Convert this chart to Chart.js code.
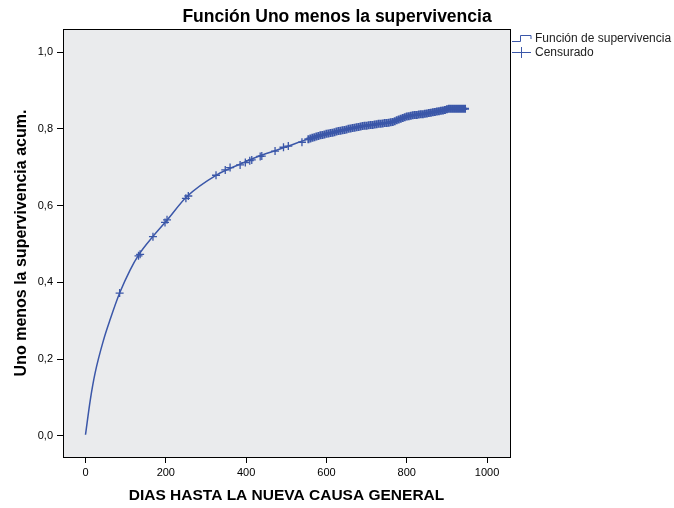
<!DOCTYPE html>
<html>
<head>
<meta charset="utf-8">
<script src="https://cdn.jsdelivr.net/npm/chart.js@4"></script>
<style>
  html, body { margin: 0; padding: 0; background: #fff; }
  #wrap { width: 674px; height: 508px; }
</style>
</head>
<body>
<div id="wrap"><canvas id="curvaChart" width="674" height="508"></canvas></div>
<script>
// Función Uno menos la supervivencia
const curveDays = [0, 12, 24, 45, 62, 85, 111, 132, 169, 203, 252, 327, 385, 433, 472, 505, 559, 600, 659, 700, 758, 780, 808, 875, 908, 950];
const curveValues = [0.003, 0.094, 0.164, 0.25, 0.305, 0.372, 0.432, 0.471, 0.521, 0.562, 0.623, 0.68, 0.708, 0.729, 0.743, 0.755, 0.775, 0.787, 0.801, 0.808, 0.817, 0.824, 0.834, 0.845, 0.852, 0.852];

// casos censurados
const censorDays = [85, 132, 136, 168, 198, 203, 250, 256, 325, 348, 360, 385, 398, 409, 414, 435, 439, 472, 493, 505, 539,
  555, 560, 565, 570, 575, 580, 585, 590, 595, 600, 605, 610, 615, 620, 625, 630, 635, 640, 645, 650, 655, 660, 665, 670,
  675, 680, 685, 690, 695, 700, 705, 710, 715, 720, 725, 730, 735, 740, 745, 750, 755, 760, 765, 770, 775, 780, 785, 790,
  795, 800, 805, 810, 815, 820, 825, 830, 835, 840, 845, 850, 855, 860, 865, 870, 875, 880, 885, 890, 895, 900, 905, 910,
  915, 920, 925, 930, 935, 940, 945];
const censorValues = [0.372, 0.469, 0.473, 0.519, 0.556, 0.563, 0.619, 0.625, 0.679, 0.693, 0.699, 0.706, 0.712, 0.717, 0.719, 0.728, 0.729, 0.742, 0.752, 0.755, 0.765,
  0.773, 0.775, 0.777, 0.778, 0.780, 0.781, 0.783, 0.784, 0.785, 0.787, 0.788, 0.789, 0.790, 0.791, 0.793, 0.794, 0.795, 0.796, 0.797, 0.798, 0.800, 0.801, 0.802, 0.803,
  0.804, 0.805, 0.806, 0.807, 0.808, 0.808, 0.809, 0.810, 0.810, 0.811, 0.812, 0.813, 0.813, 0.814, 0.815, 0.815, 0.816, 0.817, 0.818, 0.820, 0.822, 0.824, 0.826, 0.828,
  0.830, 0.832, 0.833, 0.834, 0.835, 0.836, 0.836, 0.837, 0.838, 0.838, 0.839, 0.840, 0.841, 0.842, 0.843, 0.844, 0.845, 0.846, 0.847, 0.848, 0.849, 0.851, 0.852, 0.852,
  0.852, 0.852, 0.852, 0.852, 0.852, 0.852, 0.852];

const xTicks = [0, 200, 400, 600, 800, 1000];
const yTicks = [0, 0.2, 0.4, 0.6, 0.8, 1.0];
const legendLabels = ['Función de supervivencia', 'Censurado'];

const azul = '#3b57a9';
const fuente = "Arial, 'Liberation Sans', sans-serif";

const fondoPlugin = {
  id: 'fondo',
  beforeDraw(chart) {
    const {ctx, chartArea: a} = chart;
    ctx.save();
    ctx.fillStyle = '#eaebed';
    ctx.fillRect(a.left, a.top, a.right - a.left, a.bottom - a.top);
    ctx.restore();
  },
  afterDraw(chart) {
    const {ctx, chartArea: a} = chart;
    ctx.save();
    ctx.strokeStyle = '#000';
    ctx.lineWidth = 1;
    ctx.strokeRect(Math.round(a.left) + 0.5, Math.round(a.top) + 0.5, Math.round(a.right - a.left), Math.round(a.bottom - a.top));

    // leyenda
    ctx.strokeStyle = azul;
    ctx.lineWidth = 1;
    ctx.beginPath();
    ctx.moveTo(512, 41.5); ctx.lineTo(520.5, 41.5); ctx.lineTo(520.5, 35.5); ctx.lineTo(531, 35.5); ctx.lineTo(531, 39);
    ctx.stroke();
    ctx.beginPath();
    ctx.moveTo(512, 52.5); ctx.lineTo(531, 52.5);
    ctx.moveTo(521.5, 47); ctx.lineTo(521.5, 58);
    ctx.stroke();
    ctx.fillStyle = '#222';
    ctx.font = '12px ' + fuente;
    ctx.textBaseline = 'middle';
    ctx.fillText(legendLabels[0], 535, 39);
    ctx.fillText(legendLabels[1], 535, 53);
    ctx.restore();
  }
};

const ctx = document.getElementById('curvaChart').getContext('2d');
const curvaChart = new Chart(ctx, {
  type: 'line',
  data: {
    datasets: [{
      label: legendLabels[0],
      data: curveDays.map((d, i) => ({x: d, y: curveValues[i]})),
      borderColor: azul,
      borderWidth: 1.5,
      pointRadius: 0,
      cubicInterpolationMode: 'monotone',
      fill: false
    }, {
      label: legendLabels[1],
      type: 'scatter',
      data: censorDays.map((d, i) => ({x: d, y: censorValues[i]})),
      pointStyle: 'cross',
      pointRadius: 4,
      borderColor: azul,
      // las marcas densas forman una banda sólida
      borderWidth: c => (c.raw && c.raw.x >= 550 ? 2 : 1.3),
      showLine: false
    }]
  },
  options: {
    responsive: false,
    animation: false,
    layout: { padding: 0 },
    plugins: {
      legend: { display: false },
      tooltip: { enabled: false },
      title: {
        display: true,
        text: 'Función Uno menos la supervivencia',
        color: '#000',
        font: { family: fuente, size: 17.5, weight: 'bold' },
        padding: { top: 7, bottom: 1 }
      }
    },
    scales: {
      x: {
        type: 'linear',
        min: -56,
        max: 1057,
        afterBuildTicks: axis => { axis.ticks = xTicks.map(v => ({value: v})); },
        afterFit: scale => { scale.height = 51; },
        grid: { drawOnChartArea: false, drawTicks: true, tickLength: 6, color: '#000' },
        border: { display: false },
        ticks: { color: '#000', font: { family: fuente, size: 11 }, padding: 3, maxRotation: 0, callback: v => String(v) },
        title: {
          display: true,
          text: 'DIAS HASTA LA NUEVA CAUSA GENERAL',
          color: '#000',
          font: { family: fuente, size: 15.5, weight: 'bold' },
          padding: { top: 4, bottom: 3 }
        }
      },
      y: {
        type: 'linear',
        min: -0.055,
        max: 1.06,
        afterBuildTicks: axis => { axis.ticks = yTicks.map(v => ({value: v})); },
        afterFit: scale => { scale.width = 63; },
        grid: { drawOnChartArea: false, drawTicks: true, tickLength: 6, color: '#000' },
        border: { display: false },
        ticks: {
          color: '#000',
          font: { family: fuente, size: 11 },
          padding: 4,
          callback: v => v.toFixed(1).replace('.', ',')
        },
        title: {
          display: true,
          text: 'Uno menos la supervivencia acum.',
          color: '#000',
          font: { family: fuente, size: 16, weight: 'bold' },
          padding: { top: 12, bottom: 4 }
        }
      },
      // espacio para la leyenda a la derecha
      yLeyenda: {
        position: 'right',
        display: true,
        afterFit: scale => { scale.width = 164; },
        grid: { display: false },
        border: { display: false },
        ticks: { display: false }
      }
    }
  },
  plugins: [fondoPlugin]
});
</script>
</body>
</html>
